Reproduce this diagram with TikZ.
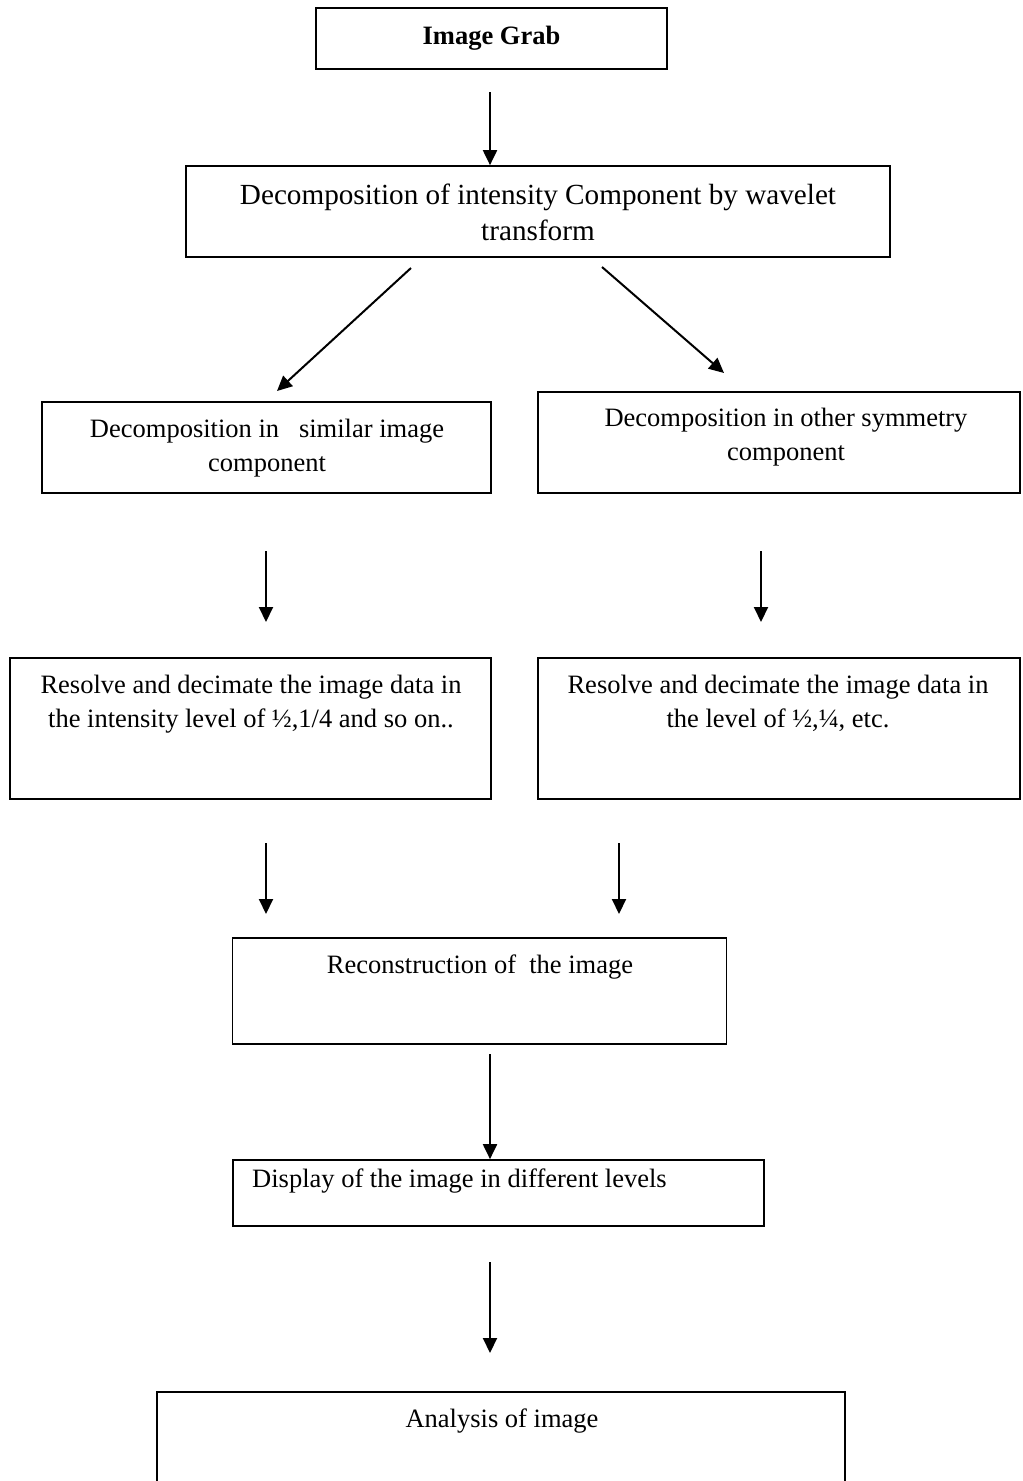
\documentclass[tikz,border=0pt]{standalone}
\usepackage{fontspec}
\setmainfont{Liberation Serif}
\usetikzlibrary{arrows.meta}
\begin{document}
\begin{tikzpicture}[x=1pt,y=-1pt,
  stagebox/.style={draw=black, line width=1.7pt, rectangle, inner sep=0pt},
  caption/.style={anchor=base, align=center, inner sep=0pt,
                  font=\fontsize{26.5}{34}\selectfont},
  flow/.style={line width=2pt, -{Triangle[length=15pt,width=14pt]}}]
\clip (0,0) rectangle (1023,1481);

% boxes of the flow
\node[stagebox, minimum width=351pt, minimum height=61pt]  (grab)     at (491.5,38.5) {};
\node[stagebox, minimum width=704pt, minimum height=91pt]  (decomp)   at (538,211.5)  {};
\node[stagebox, minimum width=449pt, minimum height=91pt]  (simL)     at (266.5,447.5) {};
\node[stagebox, minimum width=482pt, minimum height=101pt] (symR)     at (779,442.5)  {};
\node[stagebox, minimum width=481pt, minimum height=141pt] (resL)     at (250.5,728.5) {};
\node[stagebox, minimum width=482pt, minimum height=141pt] (resR)     at (779,728.5)  {};
\node[stagebox, minimum width=494pt, minimum height=106pt] (recon)    at (479.5,991)  {};
\node[stagebox, minimum width=531pt, minimum height=66pt]  (display)  at (498.5,1193) {};
\node[stagebox, minimum width=688pt, minimum height=116pt] (analysis) at (501,1450)   {};

% box texts (anchored at the baseline of the last line)
\node[caption, font=\fontsize{26.5}{34}\selectfont\bfseries] (tgrab) at (491.5,44) {Image Grab};
\node[caption, font=\fontsize{29.2}{36}\selectfont] (tdecomp) at (538,240)
  {Decomposition of intensity Component by wavelet\\transform};
\node[caption] (tsimL) at (267,471) {Decomposition in \ \ similar image\\component};
\node[caption] (tsymR) at (786,460) {Decomposition in other symmetry\\component};
\node[caption] (tresL) at (251,727) {Resolve and decimate the image data in\\the intensity level of ½,1/4 and so on..};
\node[caption] (tresR) at (778,727) {Resolve and decimate the image data in\\the level of ½,¼, etc.};
\node[caption] (trecon) at (480,973) {Reconstruction of \ the image};
\node[caption, anchor=base west] (tdisplay) at (252,1187) {Display of the image in different levels};
\node[caption] (tanalysis) at (502,1427) {Analysis of image};

% free ends of the connectors
\coordinate (s1) at (490,92);
\coordinate (s2) at (411,268);  \coordinate (e2) at (277,391);
\coordinate (s3) at (602,267);  \coordinate (e3) at (724,373);
\coordinate (s4) at (266,551);  \coordinate (e4) at (266,622);
\coordinate (s5) at (761,551);  \coordinate (e5) at (761,622);
\coordinate (s6) at (266,843);  \coordinate (e6) at (266,914);
\coordinate (s7) at (619,843);  \coordinate (e7) at (619,914);
\coordinate (s8) at (490,1054);
\coordinate (s9) at (490,1262); \coordinate (e9) at (490,1353);

% connectors
\draw[flow] (s1) -- (s1 |- decomp.north);
\draw[flow] (s2) -- (e2);
\draw[flow] (s3) -- (e3);
\draw[flow] (s4) -- (e4);
\draw[flow] (s5) -- (e5);
\draw[flow] (s6) -- (e6);
\draw[flow] (s7) -- (e7);
\draw[flow] (s8) -- (s8 |- display.north);
\draw[flow] (s9) -- (e9);
\end{tikzpicture}
\end{document}
